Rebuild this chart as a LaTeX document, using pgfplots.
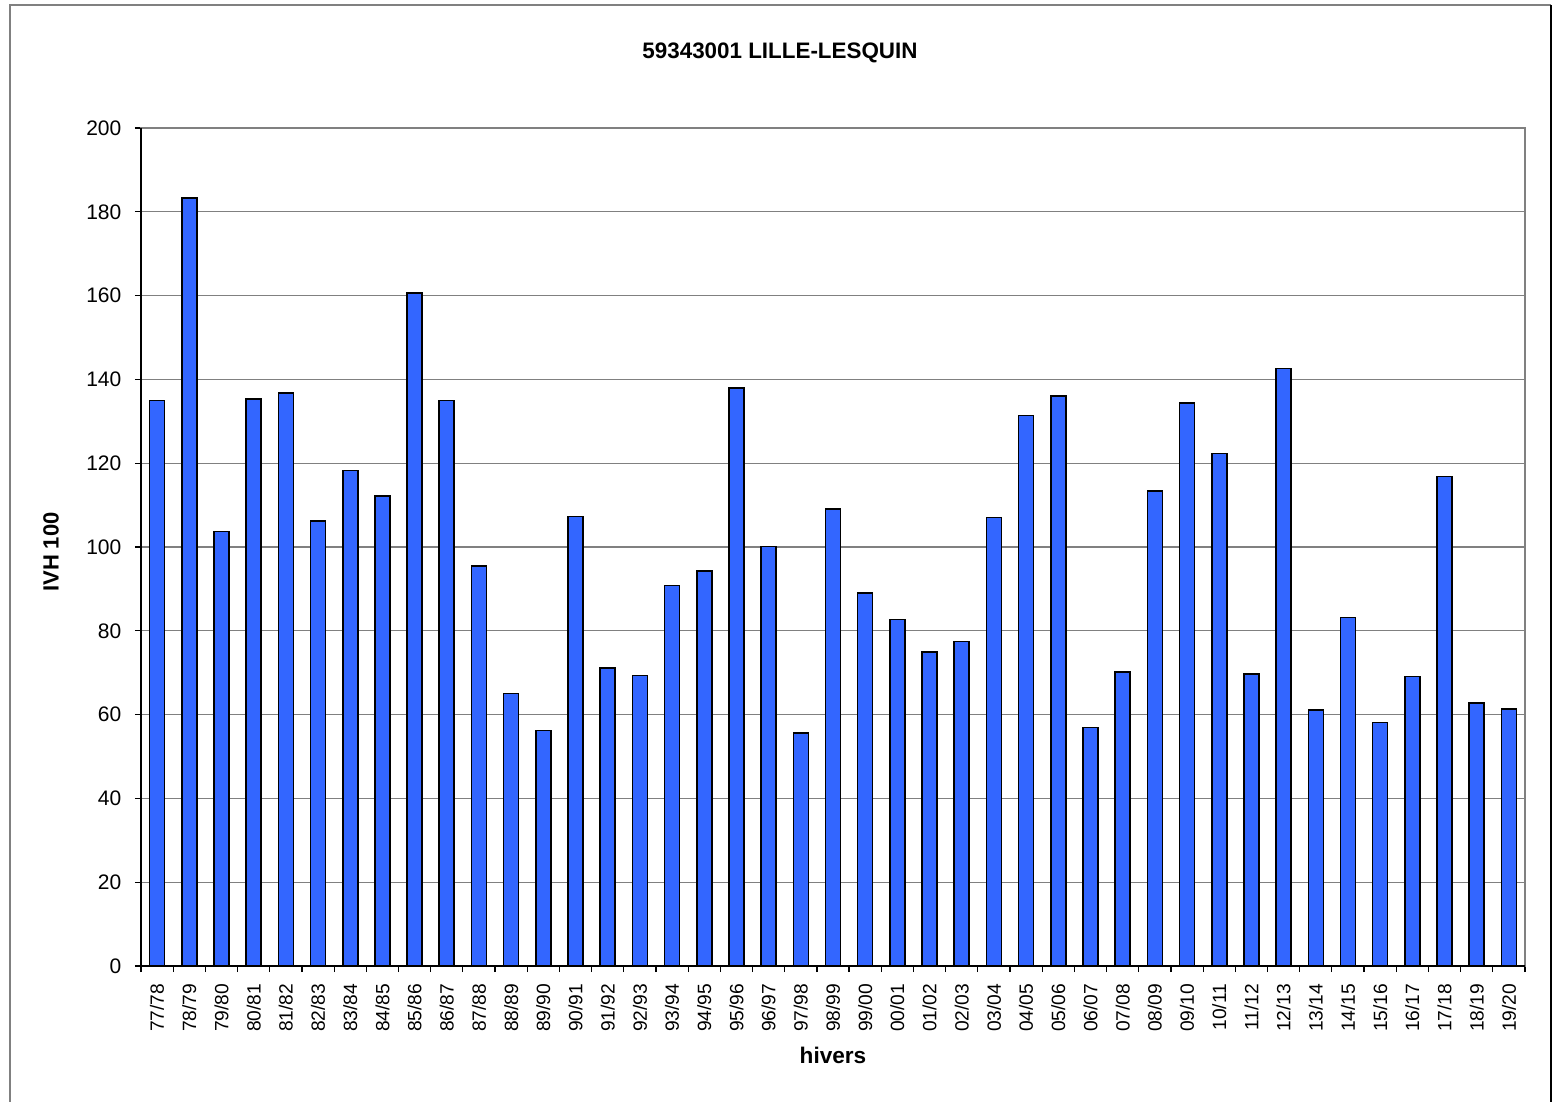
\documentclass[border=0pt]{standalone}
\usepackage{pgfplots}
\pgfplotsset{compat=1.18}
\usepackage{fontspec}
\setmainfont{Liberation Sans}
\definecolor{barblue}{HTML}{3366FF}
\definecolor{gridgray}{HTML}{808080}
\begin{document}
\begin{tikzpicture}
\begin{axis}[
  scale only axis,
  width=692pt, height=419pt,
  xmin=-0.5, xmax=42.5,
  ymin=0, ymax=200,
  ytick={0,20,...,200},
  xtick={0,...,42},
  xticklabels={77/78,78/79,79/80,80/81,81/82,82/83,83/84,84/85,85/86,86/87,87/88,88/89,89/90,90/91,91/92,92/93,93/94,94/95,95/96,96/97,97/98,98/99,99/00,00/01,01/02,02/03,03/04,04/05,05/06,06/07,07/08,08/09,09/10,10/11,11/12,12/13,13/14,14/15,15/16,16/17,17/18,18/19,19/20},
  minor xtick={-0.5,0.5,...,42.5},
  major x tick style={draw=none},
  minor x tick style={black, line width=0.6pt},
  minor tick length=3pt,
  major tick length=3pt,
  tick align=outside,
  ytick style={black, line width=0.6pt},
  xtick pos=bottom, ytick pos=left,
  ymajorgrids,
  major grid style={gridgray, line width=0.6pt},
  axis line style={gridgray, line width=0.7pt},
  xticklabel style={rotate=90, anchor=east, font=\fontsize{9.6}{11}\selectfont},
  xticklabel shift=2.4pt,
  yticklabel style={font=\fontsize{10.5}{12}\selectfont},
  yticklabel shift=3.3pt,
  /pgf/number format/assume math mode=true,
  title={\bfseries 59343001 LILLE-LESQUIN},
  title style={at={(rel axis cs:0.4617,1)}, anchor=center, yshift=31.5pt, font=\fontsize{11.2}{13}\selectfont},
  xlabel={\bfseries hivers},
  xlabel style={at={(rel axis cs:0.5,0)}, anchor=center, yshift=-44.5pt, font=\fontsize{11.3}{13}\selectfont},
  ylabel={\bfseries IVH 100},
  ylabel style={at={(axis description cs:-0.065,0.494)}, anchor=center, font=\fontsize{11}{13}\selectfont},
  clip=false,
]
\addplot[ybar, bar width=7.5pt, fill=barblue, draw=black, line width=0.8pt] coordinates {
(0,135.0) (1,183.3) (2,103.7) (3,135.3) (4,136.8) (5,106.2) (6,118.3) (7,112.1) (8,160.6) (9,135.0)
(10,95.5) (11,65.0) (12,56.2) (13,107.3) (14,71.1) (15,69.3) (16,90.8) (17,94.2) (18,137.9) (19,100.1)
(20,55.6) (21,109.0) (22,89.0) (23,82.7) (24,75.0) (25,77.4) (26,107.0) (27,131.4) (28,136.0) (29,56.9)
(30,70.1) (31,113.3) (32,134.3) (33,122.3) (34,69.7) (35,142.6) (36,61.1) (37,83.2) (38,58.1) (39,69.1)
(40,116.8) (41,62.8) (42,61.4)
};
\draw[black, line width=0.8pt] (rel axis cs:0,1) -- (rel axis cs:0,0) -- (rel axis cs:1,0);
\end{axis}
\draw[gridgray, line width=0.8pt] (-65.5pt,-80pt) -- (-65.5pt,480.5pt) -- (705pt,480.5pt);
\draw[black, line width=0.8pt] (705pt,480.5pt) -- (705pt,-80pt);
\pgfresetboundingbox
\path[use as bounding box] (-70.5pt,-68pt) rectangle (706pt,483pt);
\end{tikzpicture}
\end{document}
